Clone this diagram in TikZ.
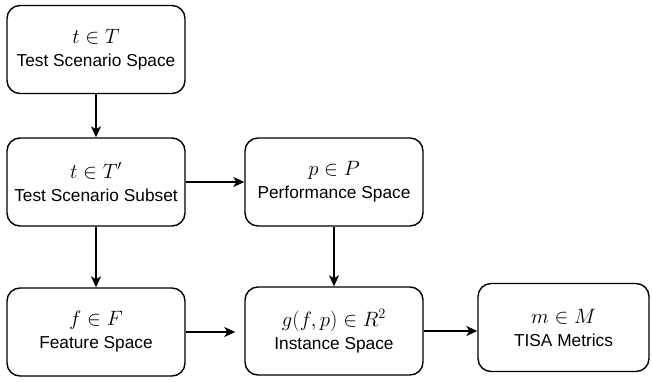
\documentclass[tikz,border=0pt]{standalone}
\usepackage[no-math]{fontspec}
\newfontfamily\arialfont{Liberation Sans}
\usetikzlibrary{arrows.meta}
\tikzset{
  box/.style={draw=black, line width=1.4pt, rounded corners=13pt, fill=white,
    minimum width=178pt, minimum height=88pt, inner sep=0pt, align=center,
    font=\fontsize{17.3}{23}\selectfont\arialfont},
  conn/.style={line width=1.5pt, -{Stealth[length=11pt,width=10pt,inset=3pt]}}
}
\newcommand{\mtxt}[1]{{\fontsize{20.5}{23}\selectfont $#1$}}
\begin{document}
\begin{tikzpicture}[x=1pt,y=1pt]
\useasboundingbox (0,0) rectangle (652,-381);
\node[box] (b1) at (96,-49.5) {\mtxt{t\in T}\\Test Scenario Space};
\node[box] (b2) at (96,-182) {\mtxt{t\in T'}\\Test Scenario Subset};
\node[box] (b3) at (334,-182) {\mtxt{p\in P}\\Performance Space};
\node[box] (b4) at (96,-332) {\mtxt{f\in F}\\Feature Space};
\node[box] (b5) at (334,-331) {\mtxt{g(f,p)\in R^2}\\Instance Space};
\node[box, minimum width=171pt] (b6) at (563.5,-327.5) {\mtxt{m\in M}\\TISA Metrics};
\draw[conn] (b1.south) -- (b2.north);
\draw[conn] (b2.east) -- (b3.west);
\draw[conn] (b2.south) -- (b4.north);
\draw[conn] (b3.south) -- (b5.north);
\draw[conn, shorten >=9pt] (b4.east) -- (b4.east -| b5.west);
\draw[conn] (b5.east) -- (b5.east -| b6.west);
\end{tikzpicture}
\end{document}
